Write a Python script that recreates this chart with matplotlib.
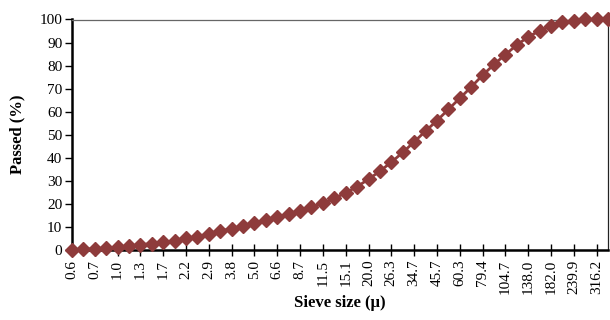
import matplotlib
matplotlib.use("Agg")
import matplotlib.pyplot as plt
import numpy as np

# Sieve size tick labels (every other category is labelled)
tick_labels = ["0.6", "0.7", "1.0", "1.3", "1.7", "2.2", "2.9", "3.8", "5.0", "6.6",
               "8.7", "11.5", "15.1", "20.0", "26.3", "34.7", "45.7", "60.3", "79.4",
               "104.7", "138.0", "182.0", "239.9", "316.2"]

# Cumulative passed (%) for each of the 48 categories
passed = [0.0, 0.3, 0.6, 0.9, 1.3, 1.8, 2.3, 2.8, 3.3, 4.1,
          5.0, 5.8, 7.1, 8.2, 9.3, 10.4, 11.6, 12.8, 14.1, 15.5,
          16.9, 18.5, 20.3, 22.4, 24.8, 27.5, 30.7, 34.2, 38.1, 42.3,
          46.9, 51.6, 56.1, 61.0, 65.8, 70.7, 75.8, 80.5, 84.8, 88.9,
          92.5, 95.1, 97.2, 98.7, 99.5, 100.0, 100.0, 100.0]

color = "#8E3B3B"
plt.rcParams["font.family"] = ["Liberation Serif", "DejaVu Serif"]

fig = plt.figure(figsize=(6.1, 3.2), dpi=100)
ax = fig.add_axes([72/610, 1 - 250/320, (608-72)/610, (250-19.5)/320])

x = np.arange(len(passed))
ax.plot(x, passed, color=color, lw=2.0, marker="D", markersize=7.5,
        markerfacecolor=color, markeredgecolor=color, clip_on=False, zorder=3)

ax.set_xlim(0, len(passed) - 1)
ax.set_ylim(0, 100)
ax.set_yticks(np.arange(0, 101, 10))
ax.set_xticks(x[::2][:len(tick_labels)])
ax.set_xticklabels(tick_labels, rotation=90, fontsize=11)
ax.tick_params(axis="y", labelsize=11, direction="out", length=5, width=1, pad=2)
ax.tick_params(axis="x", direction="inout", length=8, width=1, pad=3)

for s in ["left", "bottom"]:
    ax.spines[s].set_linewidth(1.8)
    ax.spines[s].set_color("black")
ax.spines["top"].set_linewidth(0.9)
ax.spines["top"].set_color("#666666")
ax.spines["right"].set_linewidth(0.9)
ax.spines["right"].set_color("#222222")

ax.set_xlabel("Sieve size (\u03bc)", fontsize=12, fontweight="bold", labelpad=1)
ax.set_ylabel("Passed (%)", fontsize=12, fontweight="bold", labelpad=10)

fig.savefig("out.png", dpi=100)
